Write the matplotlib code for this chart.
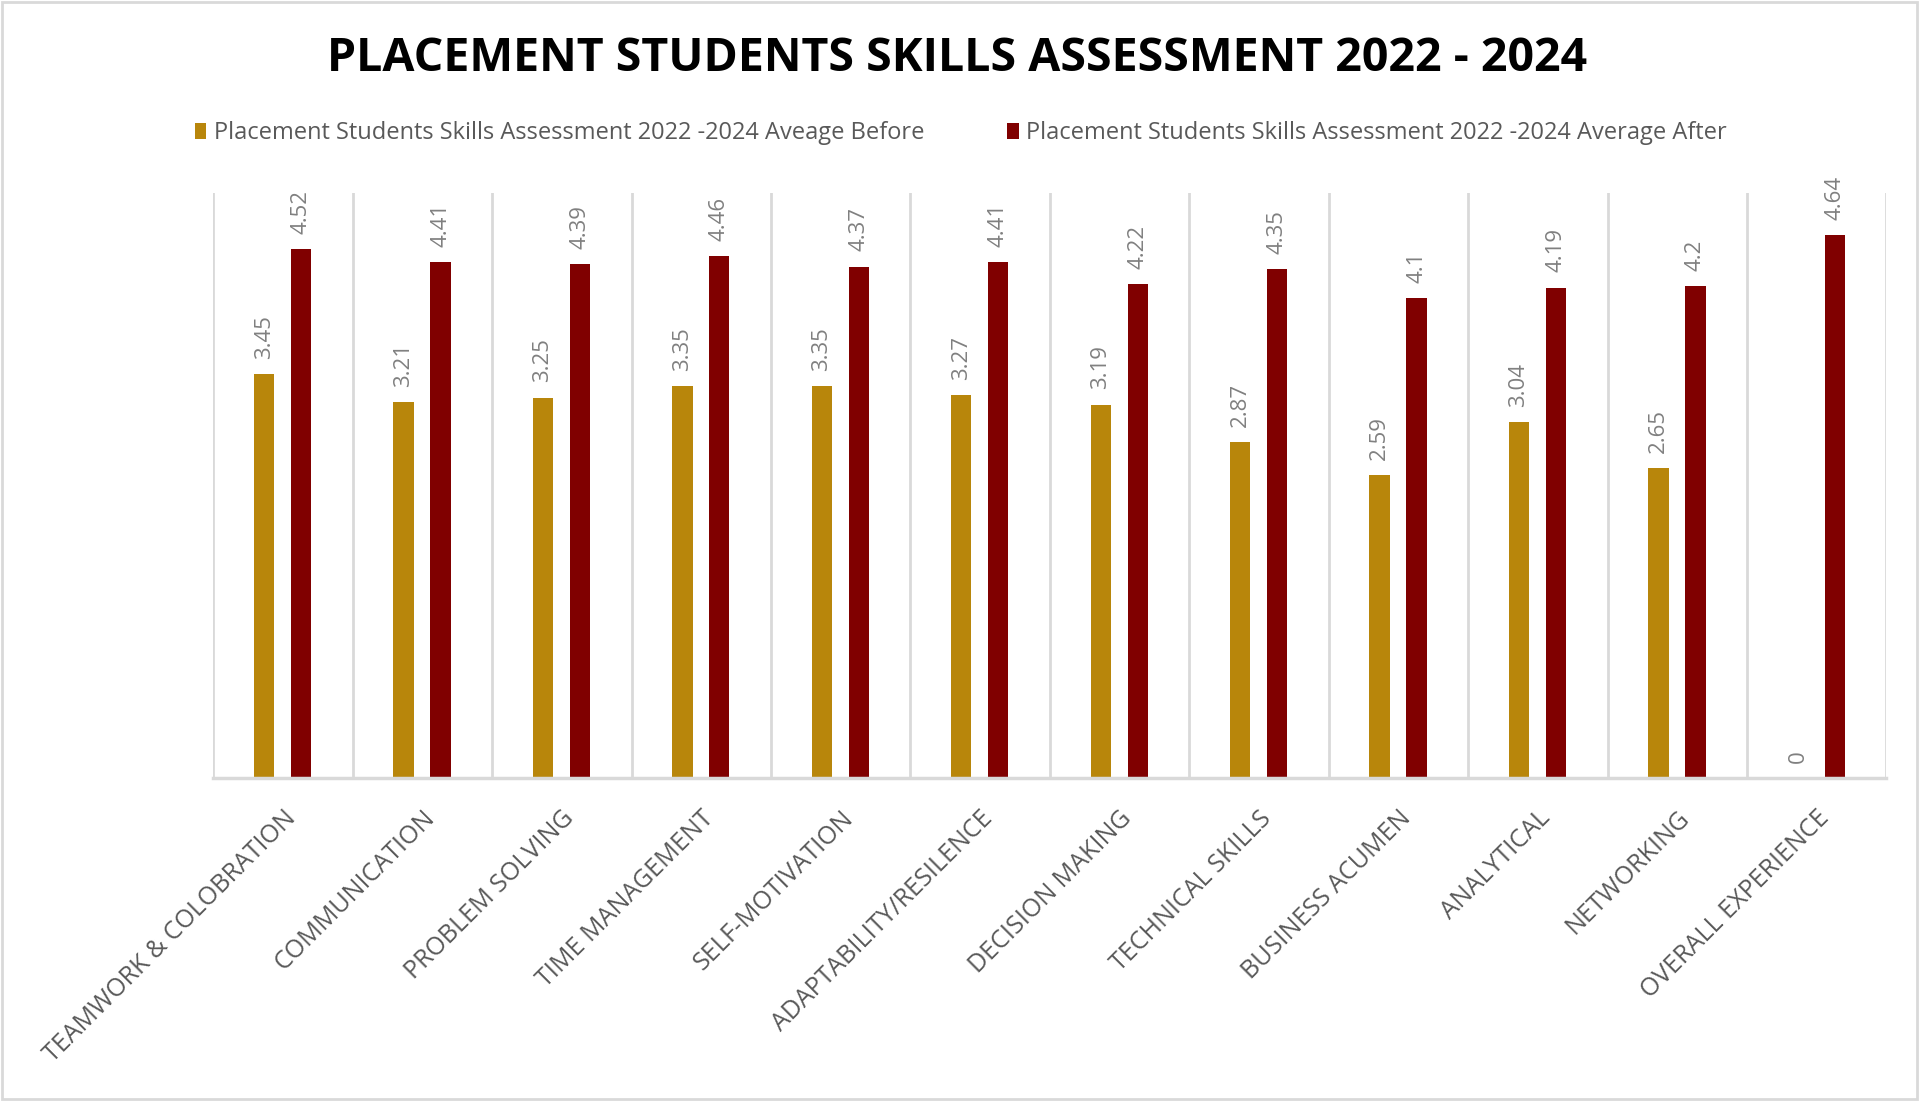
import numpy as np
import matplotlib
matplotlib.use("Agg")
import matplotlib.pyplot as plt

# data
skills = ["TEAMWORK & COLOBRATION", "COMMUNICATION", "PROBLEM SOLVING",
          "TIME MANAGEMENT", "SELF-MOTIVATION", "ADAPTABILITY/RESILENCE",
          "DECISION MAKING", "TECHNICAL SKILLS", "BUSINESS ACUMEN",
          "ANALYTICAL", "NETWORKING", "OVERALL EXPERIENCE"]
before = [3.45, 3.21, 3.25, 3.35, 3.35, 3.27, 3.19, 2.87, 2.59, 3.04, 2.65, 0]
after = [4.52, 4.41, 4.39, 4.46, 4.37, 4.41, 4.22, 4.35, 4.1, 4.19, 4.2, 4.64]
before_name = "Placement Students Skills Assessment 2022 -2024 Aveage Before"
after_name = "Placement Students Skills Assessment 2022 -2024 Average After"
title = "PLACEMENT STUDENTS SKILLS ASSESSMENT 2022 - 2024"

gold = "#B8860B"
maroon = "#800000"
grid_col = "#D9D9D9"

plt.rcParams['font.family'] = ['Open Sans', 'DejaVu Sans']

fig = plt.figure(figsize=(19.21, 11.02), dpi=100)
ax = fig.add_axes([0.111, 0.294, 0.871, 0.531])

x = np.arange(len(skills))
w = 0.145
b1 = ax.bar(x - 0.135, before, w, color=gold, label=before_name)
b2 = ax.bar(x + 0.13, after, w, color=maroon, label=after_name)

# data labels
for bars, vals in ((b1, before), (b2, after)):
    for rect, v in zip(bars, vals):
        ax.annotate(f"{v:g}", (rect.get_x() + rect.get_width() / 2, v),
                    xytext=(0, 11), textcoords="offset points",
                    rotation=90, ha="center", va="bottom",
                    fontsize=16, color="#808080")

# category separators
for b in np.arange(-0.5, len(skills), 1.0):
    ax.plot([b, b], [0, 5], color=grid_col, lw=2, zorder=0)

ax.set_xlim(-0.5, len(skills) - 0.5)
ax.set_ylim(0, 5)
ax.set_yticks([])
for s in ("top", "right", "left"):
    ax.spines[s].set_visible(False)
ax.spines["bottom"].set_color(grid_col)
ax.spines["bottom"].set_linewidth(2.5)

ax.set_xticks(x)
ax.set_xticklabels(skills, rotation=45, ha="right", va="top",
                   rotation_mode="anchor", fontsize=18, color="#595959")
ax.tick_params(axis="x", length=0, pad=20)

fig.text(0.498, 0.947, title, ha="center", va="center",
         fontsize=33.5, fontweight="bold", color="black")

fig.legend(handles=[b1, b2], loc="center", bbox_to_anchor=(0.5, 0.879),
           ncol=2, frameon=False, fontsize=17, labelcolor="#595959",
           handlelength=0.5, handleheight=0.65, handletextpad=0.3,
           columnspacing=3.5)

# chart border
fig.patches.append(plt.Rectangle((0.001, 0.003), 0.997, 0.995,
                                 transform=fig.transFigure, fill=False,
                                 edgecolor=grid_col, lw=2))

fig.savefig("out.png", dpi=100)
